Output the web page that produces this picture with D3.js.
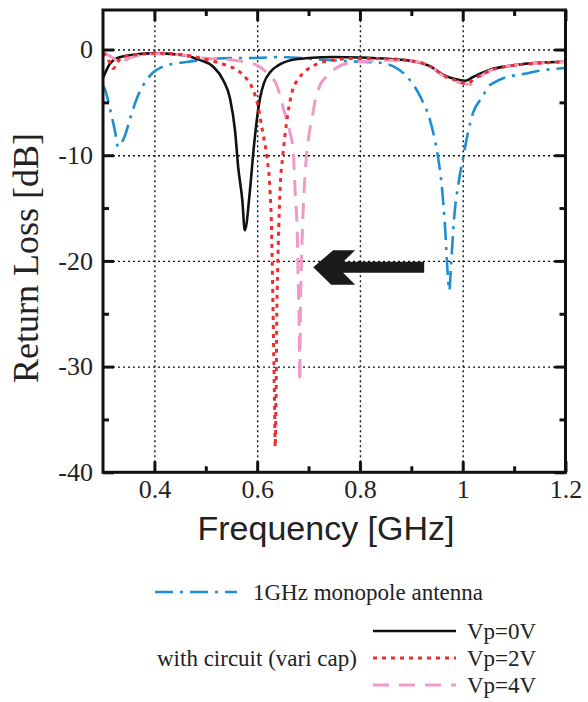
<!DOCTYPE html>
<html>
<head>
<meta charset="utf-8">
<script src="https://cdn.jsdelivr.net/npm/d3@7"></script>
<style>
  body { margin: 0; background: #fff; }
  svg { display: block; }
</style>
</head>
<body>
<div id="chart"></div>
<script>
// Measured return loss curves (GHz, dB)
const freqAntenna = [0.300, 0.304, 0.314, 0.324, 0.329, 0.343, 0.353, 0.366, 0.378, 0.397, 0.417, 0.444, 0.475, 0.508, 0.553, 0.600, 0.645, 0.709, 0.775, 0.839, 0.865, 0.892, 0.918, 0.937, 0.946, 0.952, 0.960, 0.966, 0.970, 0.974, 0.977, 0.983, 0.993, 1.001, 1.010, 1.020, 1.038, 1.050, 1.062, 1.080, 1.120, 1.150, 1.200];
const lossAntenna = [-3.4, -3.8, -5.7, -7.9, -9.2, -8.1, -6.5, -4.6, -3.4, -2.2, -1.6, -1.3, -1.1, -0.9, -0.8, -0.8, -0.7, -0.9, -1.1, -1.25, -1.6, -2.6, -4.5, -6.8, -8.6, -10.2, -13.3, -17.1, -20.6, -22.8, -20.6, -16.1, -12.3, -10.2, -7.9, -6.0, -4.5, -3.5, -3.1, -2.7, -2.3, -2.0, -1.75];

const freqVp0 = [0.300, 0.314, 0.328, 0.359, 0.397, 0.450, 0.489, 0.514, 0.534, 0.547, 0.557, 0.563, 0.571, 0.576, 0.586, 0.593, 0.600, 0.606, 0.613, 0.626, 0.641, 0.667, 0.700, 0.750, 0.800, 0.859, 0.904, 0.937, 0.962, 0.985, 1.005, 1.020, 1.053, 1.098, 1.144, 1.200];
const lossVp0 = [-2.7, -1.3, -0.8, -0.5, -0.36, -0.5, -1.0, -1.6, -2.9, -4.6, -7.7, -11.1, -14.2, -17.1, -13.3, -9.5, -6.4, -4.5, -3.2, -2.1, -1.5, -1.0, -0.8, -0.7, -0.75, -0.9, -1.1, -1.6, -2.4, -2.8, -2.95, -2.6, -1.9, -1.5, -1.25, -1.15];

const freqVp2 = [0.300, 0.304, 0.314, 0.320, 0.328, 0.339, 0.372, 0.405, 0.456, 0.489, 0.522, 0.541, 0.563, 0.580, 0.592, 0.602, 0.611, 0.619, 0.625, 0.628, 0.630, 0.632, 0.634, 0.635, 0.637, 0.638, 0.640, 0.642, 0.645, 0.650, 0.657, 0.668, 0.680, 0.695, 0.715, 0.740, 0.786, 0.839, 0.904, 0.937, 0.962, 0.985, 1.008, 1.025, 1.053, 1.098, 1.144, 1.200];
const lossVp2 = [-0.3, -0.5, -1.3, -1.8, -1.2, -0.7, -0.45, -0.35, -0.5, -0.8, -1.2, -1.5, -2.0, -2.8, -3.8, -5.4, -7.9, -10.2, -13.3, -17.0, -22.0, -28.0, -34.0, -37.6, -32.0, -26.0, -20.6, -16.8, -12.8, -10.0, -7.0, -4.0, -2.8, -2.0, -1.4, -1.05, -0.85, -0.85, -1.1, -1.6, -2.4, -2.9, -3.2, -2.7, -2.0, -1.5, -1.3, -1.15];

const freqVp4 = [0.300, 0.304, 0.320, 0.333, 0.343, 0.366, 0.405, 0.450, 0.489, 0.553, 0.580, 0.600, 0.619, 0.639, 0.650, 0.664, 0.670, 0.674, 0.678, 0.680, 0.682, 0.683, 0.684, 0.686, 0.689, 0.693, 0.697, 0.701, 0.707, 0.713, 0.722, 0.736, 0.752, 0.775, 0.814, 0.839, 0.904, 0.937, 0.962, 0.985, 1.005, 1.015, 1.030, 1.053, 1.098, 1.144, 1.200];
const lossVp4 = [-0.2, -0.35, -0.8, -1.3, -1.0, -0.6, -0.4, -0.5, -0.8, -1.0, -1.2, -1.5, -2.2, -3.5, -5.4, -7.9, -9.5, -13.6, -17.4, -22.0, -27.0, -31.4, -25.3, -20.6, -15.8, -12.0, -9.5, -8.0, -6.4, -4.8, -3.4, -2.5, -1.8, -1.3, -1.1, -1.0, -1.1, -1.6, -2.5, -3.0, -3.25, -3.3, -2.7, -2.0, -1.5, -1.3, -1.15];

const xMajor = [0.4, 0.6, 0.8, 1.0, 1.2];
const xMinor = [0.5, 0.7, 0.9, 1.1];
const yMajor = [0, -10, -20, -30, -40];
const yMinor = [-5, -15, -25, -35];
const xGrid = [0.4, 0.6, 0.8, 1.0];
const yGrid = [0, -10, -20, -30];

// arrow annotation (data units)
const arrowTail = 0.925, arrowTip = 0.709, arrowLevel = -20.6;

const W = 588, H = 702;
const plot = {left: 103, top: 10, right: 565.5, bottom: 472.3};

const svg = d3.select("#chart").append("svg")
  .attr("width", W).attr("height", H);

const x = d3.scaleLinear().domain([0.3, 1.2]).range([plot.left, plot.right]);
const y = d3.scaleLinear().domain([-40, 3.74]).range([plot.bottom, plot.top]);
const pw = plot.right - plot.left, ph = plot.bottom - plot.top;

// grid
const grid = svg.append("g");
grid.append("g")
  .attr("transform", "translate(0," + plot.bottom + ")")
  .call(d3.axisBottom(x).tickValues(xGrid).tickSize(-ph).tickFormat(""));
grid.append("g")
  .attr("transform", "translate(" + plot.left + ",0)")
  .call(d3.axisLeft(y).tickValues(yGrid).tickSize(-pw).tickFormat(""));
grid.selectAll(".domain").remove();
grid.selectAll("line")
  .attr("stroke", "#111")
  .attr("stroke-width", 1.4)
  .attr("stroke-dasharray", "2,3");

// curves
const series = [
  {f: freqAntenna, v: lossAntenna, color: "#1b8fd2", width: 2.6, dash: "18,7,3,7"},
  {f: freqVp0, v: lossVp0, color: "#111", width: 2.6, dash: null},
  {f: freqVp4, v: lossVp4, color: "#f09ac6", width: 3, dash: "16,10"},
  {f: freqVp2, v: lossVp2, color: "#ee2b2e", width: 3, dash: "4,5"}
];

svg.append("clipPath").attr("id", "clip")
  .append("rect").attr("x", plot.left).attr("y", plot.top).attr("width", pw).attr("height", ph);

const line = d3.line()
  .x(d => x(d[0]))
  .y(d => y(d[1]))
  .curve(d3.curveMonotoneX);

svg.append("g").attr("clip-path", "url(#clip)")
  .selectAll("path")
  .data(series)
  .join("path")
    .attr("fill", "none")
    .attr("stroke", s => s.color)
    .attr("stroke-width", s => s.width)
    .attr("stroke-dasharray", s => s.dash)
    .attr("stroke-linecap", "butt")
    .attr("d", s => line(s.f.map((f, i) => [f, s.v[i]])));

// frame and ticks (inward)
const ax = svg.append("g");
function tickAxis(gen, tr, vals, size) {
  ax.append("g").attr("transform", tr)
    .call(gen.tickValues(vals).tickSize(size).tickFormat(""));
}
tickAxis(d3.axisBottom(x), "translate(0," + plot.bottom + ")", xMajor, -11);
tickAxis(d3.axisBottom(x), "translate(0," + plot.bottom + ")", xMinor, -6);
tickAxis(d3.axisTop(x), "translate(0," + plot.top + ")", xMajor, -11);
tickAxis(d3.axisTop(x), "translate(0," + plot.top + ")", xMinor, -6);
tickAxis(d3.axisLeft(y), "translate(" + plot.left + ",0)", yMajor, -11);
tickAxis(d3.axisLeft(y), "translate(" + plot.left + ",0)", yMinor, -6);
tickAxis(d3.axisRight(y), "translate(" + plot.right + ",0)", yMajor, -11);
tickAxis(d3.axisRight(y), "translate(" + plot.right + ",0)", yMinor, -6);
ax.selectAll(".domain").remove();
ax.selectAll("line").attr("stroke", "#111").attr("stroke-width", 3);

svg.append("rect")
  .attr("x", plot.left).attr("y", plot.top)
  .attr("width", pw).attr("height", ph)
  .attr("fill", "none").attr("stroke", "#111").attr("stroke-width", 3);

// tick labels
const serif = "'Liberation Serif', 'Times New Roman', serif";
svg.append("g")
  .attr("transform", "translate(0," + plot.bottom + ")")
  .call(d3.axisBottom(x).tickValues(xMajor).tickSize(0).tickPadding(7).tickFormat(d3.format("~g")))
  .call(g => g.select(".domain").remove())
  .selectAll("text")
  .attr("font-family", serif).attr("font-size", 26).attr("fill", "#222");

svg.append("g")
  .attr("transform", "translate(" + plot.left + ",0)")
  .call(d3.axisLeft(y).tickValues(yMajor).tickSize(0).tickPadding(10).tickFormat(d3.format("d")))
  .call(g => g.select(".domain").remove())
  .selectAll("text")
  .attr("font-family", serif).attr("font-size", 26).attr("fill", "#222")
  .text(d => d < 0 ? "-" + Math.abs(d) : d);

// axis titles
svg.append("text")
  .attr("x", 326).attr("y", 540)
  .attr("text-anchor", "middle")
  .attr("font-family", "'Liberation Sans', Arial, sans-serif")
  .attr("font-size", 34).attr("fill", "#222")
  .text("Frequency [GHz]");

svg.append("text")
  .attr("transform", "translate(38,258) rotate(-90)")
  .attr("text-anchor", "middle")
  .attr("font-family", serif)
  .attr("font-size", 36).attr("fill", "#222")
  .text("Return Loss [dB]");

// arrow
const tx = x(arrowTip), ty = y(arrowLevel), tailX = x(arrowTail);
const arrowPts = [
  [tx, ty], [tx + 20, ty - 17], [tx + 42, ty - 17], [tx + 30, ty - 5.5],
  [tailX, ty - 5.5], [tailX, ty + 5.5], [tx + 30, ty + 5.5],
  [tx + 42, ty + 17.5], [tx + 18, ty + 17.5]
];
svg.append("path")
  .attr("d", d3.line()(arrowPts) + "Z")
  .attr("fill", "#1a1a1a");

// legend
const legend = svg.append("g").attr("font-family", serif).attr("font-size", 23).attr("fill", "#222");
const legendItems = [
  {s: series[0], x1: 155, x2: 237, ly: 592, tx: 253, label: "1GHz monopole antenna"},
  {s: series[1], x1: 373, x2: 456, ly: 631, tx: 467, label: "Vp=0V"},
  {s: series[3], x1: 373, x2: 456, ly: 658, tx: 467, label: "Vp=2V"},
  {s: series[2], x1: 373, x2: 456, ly: 685, tx: 467, label: "Vp=4V"}
];
legendItems.forEach(it => {
  legend.append("line")
    .attr("x1", it.x1).attr("x2", it.x2).attr("y1", it.ly).attr("y2", it.ly)
    .attr("stroke", it.s.color).attr("stroke-width", it.s.width)
    .attr("stroke-dasharray", it.s.dash);
  legend.append("text")
    .attr("x", it.tx).attr("y", it.ly + 8)
    .text(it.label);
});
legend.append("text")
  .attr("x", 157).attr("y", 666)
  .text("with circuit (vari cap)");
</script>
</body>
</html>
